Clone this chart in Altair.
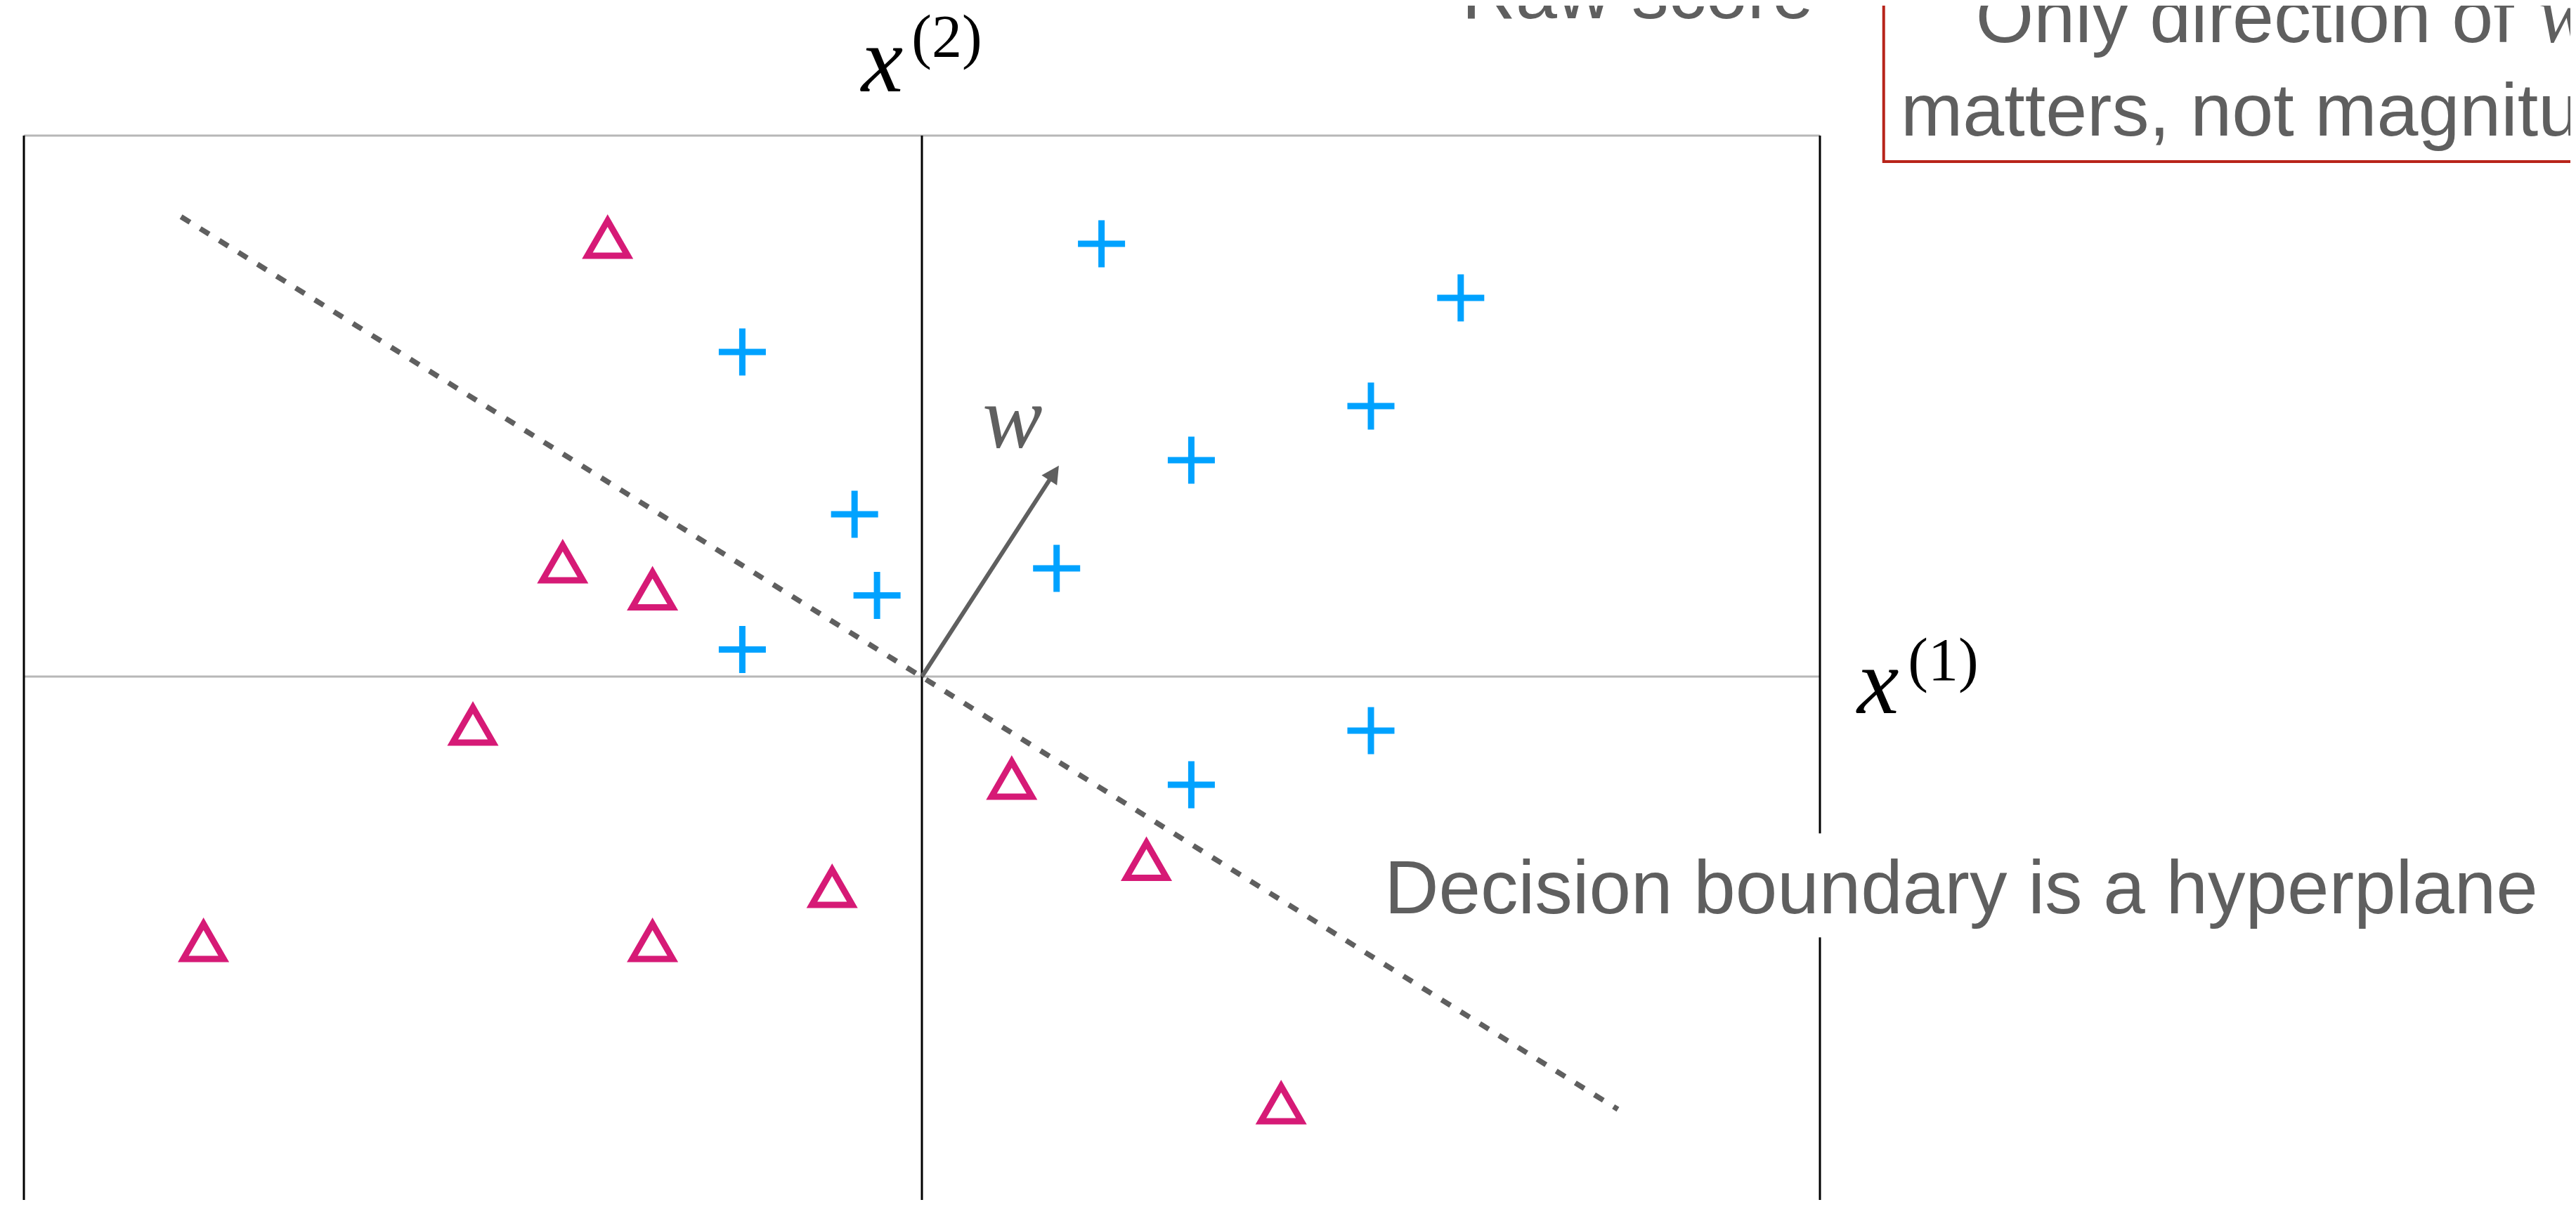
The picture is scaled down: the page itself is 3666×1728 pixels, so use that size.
import math
import altair as alt
import pandas as pd

# ---------------- data (grid units: x(1) horizontal, x(2) vertical) ----------------
plus_x1 = [4, 12, -4, 10, 6, -1.5, 3, -1, -4, 10, 6]
plus_x2 = [8, 7, 6, 5, 4, 3, 2, 1.5, 0.5, -1, -2]

tri_x1 = [-7, -8, -6, -10, 2, -2, 5, -16, -6, 8]
tri_x2 = [8, 2, 1.5, -1, -2, -4, -3.5, -5, -5, -8]

boundary_x1 = [-16.5, 15.5]
boundary_x2 = [8.5, -8.0]

w_vec = [3.05, 3.9]

frame_x = [-20, 0, 20]      # vertical (black) lines
frame_y = [10, 0, -10]      # horizontal (grey) lines

# ---------------- layout ----------------
UX, UY = 63.9, 77.0          # pixels per grid unit
W, H = 3650, 1700
OX, OY = 1304, 955           # origin position inside the view (px)
XS = alt.Scale(domain=[-OX / UX, (W - OX) / UX], nice=False, zero=False)
YS = alt.Scale(domain=[(OY - H) / UY, OY / UY], nice=False, zero=False)

GREY_TXT = "#5f5f5f"
BLUE = "#00A2FF"
PINK = "#D61A76"
RED = "#B8241A"
SANS = "Liberation Sans"
SERIF = "Liberation Serif"


def enc(extra=None):
    e = dict(x=alt.X("x:Q", scale=XS, axis=None), y=alt.Y("y:Q", scale=YS, axis=None))
    if extra:
        e.update(extra)
    return e


def seg_enc():
    return enc(dict(x2=alt.X2("x2:Q"), y2=alt.Y2("y2:Q")))


# frame lines
hlines = pd.DataFrame({"x": [frame_x[0]] * 3, "x2": [frame_x[-1]] * 3, "y": frame_y, "y2": frame_y})
vlines = pd.DataFrame({"x": frame_x, "x2": frame_x, "y": [frame_y[-1]] * 3, "y2": [frame_y[0]] * 3})
grey_lines = alt.Chart(hlines).mark_rule(color="#b7b7b7", strokeWidth=3).encode(**seg_enc())
black_lines = alt.Chart(vlines).mark_rule(color="#000000", strokeWidth=3).encode(**seg_enc())

# decision boundary
bdf = pd.DataFrame({"x": [boundary_x1[0]], "y": [boundary_x2[0]],
                    "x2": [boundary_x1[1]], "y2": [boundary_x2[1]]})
boundary = alt.Chart(bdf).mark_rule(color=GREY_TXT, strokeWidth=7.5,
                                    strokeDash=[15, 17]).encode(**seg_enc())

# w arrow
shaft_df = pd.DataFrame({"x": [0], "y": [0], "x2": [0.96 * w_vec[0]], "y2": [0.96 * w_vec[1]]})
shaft = alt.Chart(shaft_df).mark_rule(color=GREY_TXT, strokeWidth=6).encode(**seg_enc())
angle = math.degrees(math.atan2(w_vec[0] * UX, w_vec[1] * UY))
head = alt.Chart(pd.DataFrame({"x": [w_vec[0]], "y": [w_vec[1]]})).mark_point(
    shape="M0,0L1.04,2L-1.04,2Z", size=625, filled=True, opacity=1,
    color=GREY_TXT, angle=angle).encode(**enc())

# points
plus_df = pd.DataFrame({"x": plus_x1, "y": plus_x2})
pluses = alt.Chart(plus_df).mark_point(
    shape="M-1,0L1,0M0,-1L0,1", size=4489, filled=False, opacity=1,
    color=BLUE, strokeWidth=9).encode(**enc())

tri_df = pd.DataFrame({"x": tri_x1, "y": tri_x2})
tris = alt.Chart(tri_df).mark_point(
    shape="triangle-up", size=3300, filled=False, opacity=1,
    color=PINK, strokeWidth=9, yOffset=-8).encode(**enc())


def text(x, y, s, align="left", font=SANS, size=106, style="normal", color=GREY_TXT):
    df = pd.DataFrame({"x": [x], "y": [y], "t": [s]})
    return alt.Chart(df).mark_text(align=align, baseline="alphabetic", font=font,
                                   fontSize=size, fontStyle=style, color=color).encode(
        **enc(dict(text="t:N")))


# white background behind the boundary label
label_bg = alt.Chart(pd.DataFrame({"x": [9.83], "x2": [36.1], "y": [-4.82], "y2": [-2.90]})).mark_rect(
    color="white").encode(**seg_enc())

# red callout box (cut by the page edge)
red_box = alt.Chart(pd.DataFrame({"x": [21.42], "x2": [45], "y": [9.52], "y2": [15]})).mark_rect(
    filled=False, color=RED, strokeWidth=4).encode(**seg_enc())

texts = [
    text(19.86, 12.17, "Raw score", align="right"),
    text(23.47, 11.73, "Only direction of"),
    text(35.99, 11.73, "w", font=SERIF, style="italic", size=118),
    text(21.80, 10.0, "matters, not magnitude"),
    text(10.30, -4.38, "Decision boundary is a hyperplane", size=107),
    text(1.35, 4.23, "w", font=SERIF, style="italic", size=128),
    text(-1.35, 10.82, "x", font=SERIF, style="italic", size=134, color="#000000"),
    text(-0.23, 11.45, "(2)", font=SERIF, size=86, color="#000000"),
    text(20.83, -0.675, "x", font=SERIF, style="italic", size=134, color="#000000"),
    text(21.96, -0.065, "(1)", font=SERIF, size=86, color="#000000"),
]

chart = alt.layer(
    grey_lines, black_lines, boundary, shaft, head, pluses, tris,
    label_bg, red_box, *texts
).properties(
    width=W, height=H, padding=0, background="white",
    autosize=alt.AutoSizeParams(type="none")
).configure_view(stroke=None)

chart.save("out.html", embed_options={"renderer": "svg", "actions": False})
